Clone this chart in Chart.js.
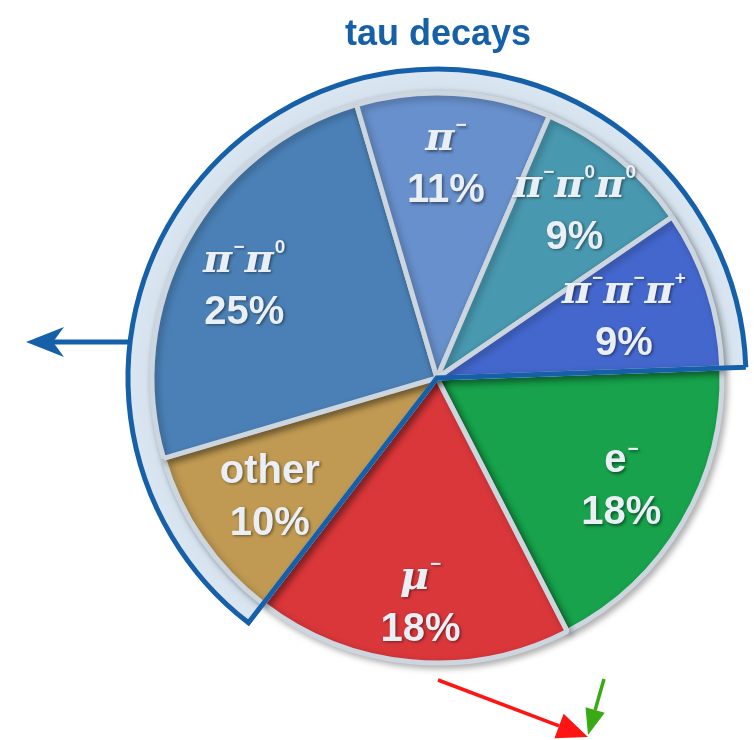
<!DOCTYPE html>
<html>
<head>
<meta charset="utf-8">
<script src="https://cdn.jsdelivr.net/npm/chart.js@4.4.1/dist/chart.umd.min.js"></script>
<style>
  html, body { margin: 0; padding: 0; background: #ffffff; }
  #wrap { width: 754px; height: 740px; position: relative; }
</style>
</head>
<body>
<div id="wrap"><canvas id="chart" width="754" height="740"></canvas></div>
<script>
// Tau lepton decay modes and their branching fractions (%)
const chartTitle = 'tau decays';
const categories = ['e⁻', 'μ⁻', 'other', 'π⁻π⁰', 'π⁻', 'π⁻π⁰π⁰', 'π⁻π⁻π⁺'];
const shares = [18, 18, 10, 25, 11, 9, 9];
const isHadronic = [false, false, true, true, true, true, true];
const sliceColors = ['#17a24b', '#d9373a', '#c09a52', '#4a80b6', '#6890cc', '#4898b0', '#4367cc'];

const SUPERSCRIPTS = { '⁻': '−', '⁰': '0', '⁺': '+' };
const FONT_LATIN = 'bold 40px "Liberation Sans", Arial, sans-serif';
const FONT_GREEK = 'bold italic 40px "DejaVu Serif", serif';
const FONT_SUP = 'bold 19px "Liberation Sans", Arial, sans-serif';

// Split a label like "π⁻π⁰" into base / superscript runs
function tokenize(label) {
  const out = [];
  for (const ch of label) {
    let kind, text = ch;
    if (ch in SUPERSCRIPTS) { kind = 'sup'; text = SUPERSCRIPTS[ch]; }
    else if (/[\u0370-\u03ff\u00b5]/.test(ch)) kind = 'greek';
    else kind = 'latin';
    const last = out[out.length - 1];
    if (last && last.kind === 'latin' && kind === 'latin') last.text += text;
    else out.push({ kind, text });
  }
  return out;
}
function fontFor(kind) {
  return kind === 'sup' ? FONT_SUP : kind === 'greek' ? FONT_GREEK : FONT_LATIN;
}
function drawRich(ctx, label, cx, baseline) {
  const toks = tokenize(label);
  let total = 0;
  toks.forEach((t, i) => {
    ctx.font = fontFor(t.kind);
    t.raise = t.kind === 'sup' ? (toks[i - 1] && toks[i - 1].kind === 'greek' ? 19 : 17) : 0;
    t.pad = t.kind === 'sup' ? 1 : 0;
    t.w = ctx.measureText(t.text).width + t.pad;
    total += t.w;
  });
  let x = cx - total / 2;
  ctx.textAlign = 'left';
  toks.forEach(t => {
    ctx.font = fontFor(t.kind);
    ctx.fillText(t.text, x + t.pad, baseline - t.raise);
    x += t.w;
  });
}

function arrow(ctx, x0, y0, x1, y1, color, width, headLen, headHalf, notch) {
  const ang = Math.atan2(y1 - y0, x1 - x0);
  const cos = Math.cos(ang), sin = Math.sin(ang);
  const bx = x1 - cos * headLen, by = y1 - sin * headLen;
  const nx = x1 - cos * (headLen - notch), ny = y1 - sin * (headLen - notch);
  ctx.save();
  ctx.strokeStyle = color;
  ctx.fillStyle = color;
  ctx.lineWidth = width;
  ctx.beginPath();
  ctx.moveTo(x0, y0);
  ctx.lineTo(nx, ny);
  ctx.stroke();
  ctx.beginPath();
  ctx.moveTo(x1, y1);
  ctx.lineTo(bx - sin * headHalf, by + cos * headHalf);
  ctx.lineTo(nx, ny);
  ctx.lineTo(bx + sin * headHalf, by - cos * headHalf);
  ctx.closePath();
  ctx.fill();
  ctx.restore();
}

function arcGeometry(chart) {
  return chart.getDatasetMeta(0).data.map(el =>
    el.getProps(['x', 'y', 'startAngle', 'endAngle', 'outerRadius'], true));
}
function hadronicSpan(arcs) {
  const idx = isHadronic.map((h, i) => h ? i : -1).filter(i => i >= 0);
  return { a0: arcs[idx[0]].startAngle, a1: arcs[idx[idx.length - 1]].endAngle };
}

const decorPlugin = {
  id: 'decor',
  beforeDatasetsDraw(chart, args, opts) {
    const ctx = chart.ctx;
    const arcs = arcGeometry(chart);
    const { x: cx, y: cy, outerRadius: r } = arcs[0];
    const rb = r + opts.bandWidth;
    const { a0, a1 } = hadronicSpan(arcs);
    // light band framing the hadronic modes
    const g = ctx.createRadialGradient(cx, cy, r - 4, cx, cy, rb);
    g.addColorStop(0, '#c3d0dc');
    g.addColorStop(0.35, '#d6e3ef');
    g.addColorStop(1, '#dae6f2');
    ctx.save();
    ctx.beginPath();
    ctx.moveTo(cx, cy);
    ctx.arc(cx, cy, rb, a0, a1);
    ctx.closePath();
    ctx.fillStyle = g;
    ctx.fill();
    ctx.restore();
    // soft drop shadow under the slices
    ctx.save();
    ctx.shadowColor = 'rgba(0,0,0,0.28)';
    ctx.shadowBlur = 7;
    ctx.shadowOffsetX = 3;
    ctx.shadowOffsetY = 3;
  },
  afterDatasetsDraw(chart, args, opts) {
    const ctx = chart.ctx;
    ctx.restore();
    const arcs = arcGeometry(chart);
    const { x: cx, y: cy, outerRadius: r } = arcs[0];
    const rb = r + opts.bandWidth;
    const { a0, a1 } = hadronicSpan(arcs);

    // outline of the hadronic group
    ctx.save();
    ctx.beginPath();
    ctx.moveTo(cx + Math.cos(a1) * rb, cy + Math.sin(a1) * rb);
    ctx.lineTo(cx, cy);
    ctx.lineTo(cx + Math.cos(a0) * rb, cy + Math.sin(a0) * rb);
    ctx.arc(cx, cy, rb, a0, a1);
    ctx.lineWidth = 5;
    ctx.lineJoin = 'miter';
    ctx.strokeStyle = '#1660aa';
    ctx.stroke();
    ctx.restore();

    // slice labels
    ctx.save();
    ctx.fillStyle = '#e9eff5';
    ctx.shadowColor = 'rgba(0,0,0,0.45)';
    ctx.shadowBlur = 3;
    ctx.shadowOffsetX = 1.5;
    ctx.shadowOffsetY = 1.5;
    ctx.textBaseline = 'alphabetic';
    arcs.forEach((a, i) => {
      const mid = (a.startAngle + a.endAngle) / 2 + opts.labelTurn[i] * Math.PI / 180;
      const rr = a.outerRadius * opts.labelRadius[i];
      const lx = a.x + Math.cos(mid) * rr;
      const ly = a.y + Math.sin(mid) * rr;
      drawRich(ctx, categories[i], lx, ly - 14);
      ctx.font = FONT_LATIN;
      ctx.textAlign = 'center';
      ctx.fillText(shares[i] + '%', lx, ly + 38);
    });
    ctx.restore();

    // title
    ctx.save();
    ctx.font = 'bold 36px "Liberation Sans", Arial, sans-serif';
    ctx.fillStyle = '#1660a8';
    ctx.textAlign = 'center';
    ctx.fillText(chartTitle, cx + 1, 45);
    ctx.restore();

    // arrows
    const ay = cy - 36;
    const ax = cx - Math.sqrt(rb * rb - 36 * 36);
    arrow(ctx, ax, ay, 26, ay, '#1660aa', 5, 38, 15, 11);
    arrow(ctx, cx + 1, cy + 302, cx + 151, cy + 359, '#ff1414', 3.5, 31, 13, 0);
    arrow(ctx, cx + 167, cy + 301, cx + 151, cy + 357, '#3aaa14', 3.5, 26, 10, 0);
  }
};

new Chart(document.getElementById('chart'), {
  type: 'pie',
  data: {
    labels: categories,
    datasets: [{
      data: shares,
      backgroundColor: sliceColors,
      borderColor: '#cdd6df',
      borderWidth: 5,
      borderAlign: 'center'
    }]
  },
  options: {
    responsive: false,
    animation: false,
    rotation: 88,
    radius: 285,
    layout: { padding: { left: 120, right: 0, top: 16, bottom: 0 } },
    plugins: {
      legend: { display: false },
      tooltip: { enabled: false },
      title: { display: false },
      decor: {
        bandWidth: 24,
        labelRadius: [0.75, 0.79, 0.72, 0.75, 0.75, 0.76, 0.69],
        labelTurn: [0, -1, -1, -3, -1, 0, 0]
      }
    }
  },
  plugins: [decorPlugin]
});
</script>
</body>
</html>
